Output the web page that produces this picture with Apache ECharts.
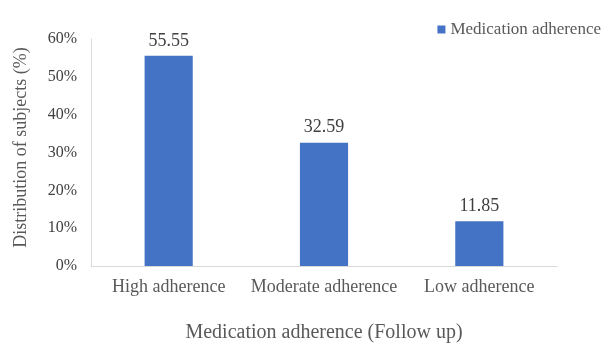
<!DOCTYPE html>
<html>
<head>
<meta charset="utf-8">
<script src="https://cdn.jsdelivr.net/npm/echarts@6/dist/echarts.min.js"></script>
<style>
  html, body { margin: 0; padding: 0; background: #fff; }
  #chart { width: 608px; height: 344px; }
</style>
</head>
<body>
<div id="chart"></div>
<script>
// Share of subjects by medication adherence level at follow up
const categories = ['High adherence', 'Moderate adherence', 'Low adherence'];
const adherenceValues = [55.55, 32.59, 11.85];
const seriesName = 'Medication adherence';

const font = '"Liberation Serif", "Times New Roman", serif';
const textColor = '#595959';

const chart = echarts.init(document.getElementById('chart'));
chart.setOption({
  animation: false,
  textStyle: { fontFamily: font },
  legend: {
    data: [seriesName],
    right: 2,
    top: 16,
    icon: 'rect',
    itemWidth: 8,
    itemHeight: 8,
    itemGap: 7,
    textStyle: { fontFamily: font, fontSize: 17, color: textColor }
  },
  grid: { left: 91, right: 51, top: 39, bottom: 78, outerBoundsMode: 'none' },
  xAxis: {
    type: 'category',
    data: categories,
    name: 'Medication adherence (Follow up)',
    nameLocation: 'middle',
    nameGap: 57,
    nameTextStyle: { fontFamily: font, fontSize: 20, color: textColor },
    axisLine: { lineStyle: { color: '#d9d9d9', width: 1 } },
    axisTick: { show: false },
    axisLabel: { interval: 0, fontFamily: font, fontSize: 18, color: textColor, margin: 12 }
  },
  yAxis: {
    type: 'value',
    min: 0,
    max: 60,
    interval: 10,
    name: 'Distribution of subjects (%)',
    nameLocation: 'middle',
    nameGap: 61,
    nameTextStyle: { fontFamily: font, fontSize: 18, color: textColor, padding: [0, 0, 0, 10] },
    axisLine: { show: true, lineStyle: { color: '#d9d9d9', width: 1 } },
    axisTick: { show: false },
    splitLine: { show: false },
    axisLabel: {
      fontFamily: font,
      fontSize: 16,
      color: '#404040',
      margin: 14,
      formatter: v => v + '%'
    }
  },
  series: [{
    name: seriesName,
    type: 'bar',
    data: adherenceValues,
    barWidth: '31%',
    itemStyle: { color: '#4472c4' },
    label: {
      show: true,
      position: 'top',
      distance: 6,
      fontFamily: font,
      fontSize: 18,
      color: '#404040',
      formatter: p => p.value.toFixed(2)
    }
  }]
});
</script>
</body>
</html>
